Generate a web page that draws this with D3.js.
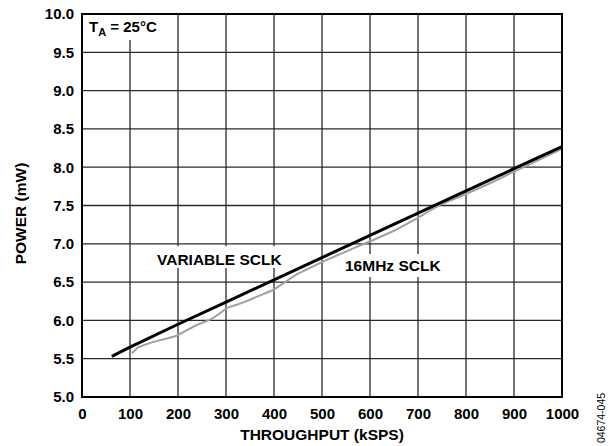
<!DOCTYPE html>
<html>
<head>
<meta charset="utf-8">
<script src="https://cdn.jsdelivr.net/npm/d3@7"></script>
<style>
    body { margin: 0; background: #fff; }
    svg { display: block; }
    text { font-family: "Liberation Sans", Arial, Helvetica, sans-serif; font-weight: bold; fill: #000; }
</style>
</head>
<body>
<div id="chart"></div>
<script>
// ****************************************************************************
// ******************************** DATOS *************************************
// ****************************************************************************

const x_ticks = [0, 100, 200, 300, 400, 500, 600, 700, 800, 900, 1000];
const y_ticks = [5.0, 5.5, 6.0, 6.5, 7.0, 7.5, 8.0, 8.5, 9.0, 9.5, 10.0];

// VARIABLE SCLK (black)
const var_throughput = [62, 100, 200, 300, 400, 500, 600, 700, 800, 900, 1000];
const var_power = [5.53, 5.65, 5.95, 6.24, 6.53, 6.82, 7.11, 7.40, 7.69, 7.98, 8.27];

// 16MHz SCLK (gray)
const fix_throughput = [104, 117, 130, 149, 175, 197, 215, 239, 267, 285, 301,
    325, 350, 399, 447, 503, 565, 607, 650, 697, 746, 800, 850, 899, 950, 1000];
const fix_power = [5.57, 5.65, 5.68, 5.72, 5.76, 5.80, 5.86, 5.94, 6.01, 6.08,
    6.16, 6.21, 6.27, 6.40, 6.60, 6.77, 6.94, 7.05, 7.17, 7.33, 7.51, 7.65,
    7.79, 7.94, 8.09, 8.24];

// ****************************************************************************
// ******************************** CHART *************************************
// ****************************************************************************

const W = 613, H = 446;
const margin = {top: 14, right: 51, bottom: 49, left: 82};
const width = W - margin.left - margin.right;
const height = H - margin.top - margin.bottom;

const svg = d3.select("#chart").append("svg")
    .attr("width", W)
    .attr("height", H);

const g = svg.append("g")
    .attr("transform", "translate(" + margin.left + "," + margin.top + ")");

const x = d3.scaleLinear().domain([0, 1000]).range([0, width]);
const y = d3.scaleLinear().domain([5, 10]).range([height, 0]);

// grid
g.append("g").selectAll("line.v")
    .data(x_ticks.slice(1, -1)).enter()
    .append("line")
    .attr("x1", d => x(d)).attr("x2", d => x(d))
    .attr("y1", 0).attr("y2", height)
    .attr("stroke", "#2a2a2a").attr("stroke-width", 1.3);

g.append("g").selectAll("line.h")
    .data(y_ticks.slice(1, -1)).enter()
    .append("line")
    .attr("x1", 0).attr("x2", width)
    .attr("y1", d => y(d)).attr("y2", d => y(d))
    .attr("stroke", "#2a2a2a").attr("stroke-width", 1.3);

// white boxes behind the labels (they hide the grid)
function label_box(x0, y0, w, h){
    g.append("rect")
        .attr("x", x0 - margin.left).attr("y", y0 - margin.top)
        .attr("width", w).attr("height", h)
        .attr("fill", "#fff");
}
label_box(84, 15, 80, 25);
label_box(152, 246, 138, 22);
label_box(341, 254, 106, 23);

// lines
const line = d3.line().x(d => x(d[0])).y(d => y(d[1]));

g.append("path")
    .datum(d3.zip(fix_throughput, fix_power))
    .attr("d", line)
    .attr("fill", "none")
    .attr("stroke", "#a0a0a0")
    .attr("stroke-width", 2);

g.append("path")
    .datum(d3.zip(var_throughput, var_power))
    .attr("d", line)
    .attr("fill", "none")
    .attr("stroke", "#000")
    .attr("stroke-width", 3);

// frame
g.append("rect")
    .attr("width", width).attr("height", height)
    .attr("fill", "none")
    .attr("stroke", "#000")
    .attr("stroke-width", 2);

// axes
const x_axis = g.append("g")
    .attr("transform", "translate(0," + height + ")")
    .call(d3.axisBottom(x).tickValues(x_ticks).tickSize(0).tickPadding(11)
        .tickFormat(d3.format("d")));
const y_axis = g.append("g")
    .call(d3.axisLeft(y).tickValues(y_ticks).tickSize(0).tickPadding(8)
        .tickFormat(d3.format(".1f")));

[x_axis, y_axis].forEach(function(a){
    a.select(".domain").remove();
    a.selectAll("text")
        .style("font-size", "15px")
        .style("font-family", "'Liberation Sans', Arial, sans-serif")
        .style("font-weight", "bold")
        .attr("fill", "#000");
});

// axis titles
svg.append("text")
    .attr("x", margin.left + width / 2)
    .attr("y", 440)
    .attr("text-anchor", "middle")
    .style("font-size", "15.5px")
    .text("THROUGHPUT (kSPS)");

svg.append("text")
    .attr("transform", "translate(26," + (margin.top + height / 2 + 8) + ") rotate(-90)")
    .attr("text-anchor", "middle")
    .style("font-size", "15.5px")
    .text("POWER (mW)");

// annotations
const ta = svg.append("text")
    .attr("x", 89).attr("y", 31.5)
    .style("font-size", "15px");
ta.append("tspan").text("T");
ta.append("tspan").attr("dy", 4.5).style("font-size", "11px").text("A");
ta.append("tspan").attr("dy", -4.5).text(" = 25°C");

svg.append("text")
    .attr("x", 157).attr("y", 265)
    .style("font-size", "15.5px")
    .text("VARIABLE SCLK");

svg.append("text")
    .attr("x", 345).attr("y", 271)
    .style("font-size", "15.5px")
    .text("16MHz SCLK");

// figure id
svg.append("text")
    .attr("transform", "translate(605,418) rotate(-90)")
    .attr("text-anchor", "middle")
    .style("font-size", "10.5px")
    .style("font-weight", "normal")
    .attr("fill", "#333")
    .text("04674-045");
</script>
</body>
</html>
